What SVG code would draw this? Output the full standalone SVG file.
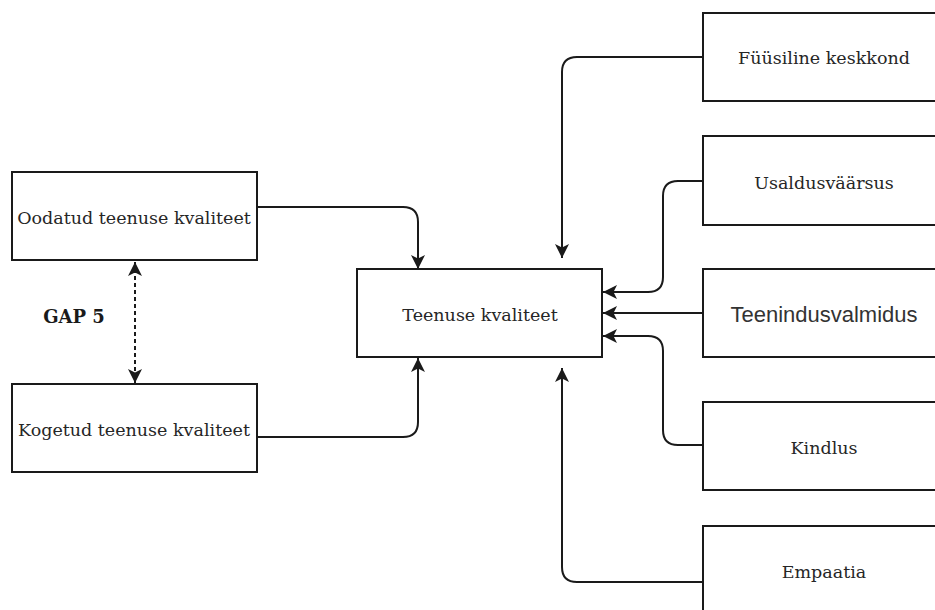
<svg xmlns="http://www.w3.org/2000/svg" width="935" height="610" viewBox="0 0 935 610">
  <defs>
    <style>
      .box { fill: #ffffff; stroke: #1a1a1a; stroke-width: 2; }
      .lbl { font-family: "DejaVu Serif", "Liberation Serif", serif; font-size: 17.5px; fill: #262626; text-anchor: middle; dominant-baseline: central; }
      .sans { font-family: "Liberation Sans", Arial, sans-serif; font-size: 22px; fill: #333333; text-anchor: middle; dominant-baseline: central; }
      .gap { font-family: "DejaVu Serif", "Liberation Serif", serif; font-size: 18px; font-weight: bold; fill: #1a1a1a; text-anchor: middle; dominant-baseline: central; }
      .edge { fill: none; stroke: #1a1a1a; stroke-width: 2; marker-end: url(#arrow); }
      .dash { fill: none; stroke: #1a1a1a; stroke-width: 2; stroke-dasharray: 4 3; marker-start: url(#arrow); marker-end: url(#arrow); }
    </style>
    <!-- classic notched arrowhead, tip at the path end -->
    <marker id="arrow" viewBox="0 0 14 14" refX="14" refY="7" markerWidth="14" markerHeight="14" markerUnits="userSpaceOnUse" orient="auto-start-reverse">
      <path d="M14,7 L0,0 L3.5,7 L0,14 Z" fill="#1a1a1a"/>
    </marker>
  </defs>

  <!-- connectors -->
  <g id="connectors">
    <path class="edge" d="M257,207 H403 Q418,207 418,222 V269"/>
    <path class="edge" d="M257,437 H403 Q418,437 418,422 V358"/>
    <path class="dash" d="M135,262 V383"/>
    <path class="edge" d="M703,57 H577 Q562,57 562,72 V258"/>
    <path class="edge" d="M703,181 H678 Q663,181 663,196 V277 Q663,292 648,292 H603"/>
    <path class="edge" d="M703,313 H603"/>
    <path class="edge" d="M703,445 H678 Q663,445 663,430 V351 Q663,336 648,336 H603"/>
    <path class="edge" d="M703,582 H577 Q562,582 562,567 V368"/>
  </g>

  <!-- left column -->
  <g id="oodatud">
    <rect class="box" x="12" y="172" width="245" height="88"/>
    <text class="lbl" x="134" y="218">Oodatud teenuse kvaliteet</text>
  </g>
  <g id="kogetud">
    <rect class="box" x="12" y="384" width="245" height="88"/>
    <text class="lbl" x="134" y="430">Kogetud teenuse kvaliteet</text>
  </g>
  <g id="gap5">
    <text class="gap" x="74" y="316">GAP 5</text>
  </g>

  <!-- centre -->
  <g id="teenuse-kvaliteet">
    <rect class="box" x="357" y="269" width="245" height="88"/>
    <text class="lbl" x="480" y="315">Teenuse kvaliteet</text>
  </g>

  <!-- right column -->
  <g id="fuusiline">
    <rect class="box" x="703" y="13" width="245" height="88"/>
    <text class="lbl" x="824" y="58">Füüsiline keskkond</text>
  </g>
  <g id="usaldusvaarsus">
    <rect class="box" x="703" y="136" width="245" height="89"/>
    <text class="lbl" x="824" y="183">Usaldusväärsus</text>
  </g>
  <g id="teenindusvalmidus">
    <rect class="box" x="703" y="269" width="245" height="88"/>
    <text class="sans" x="824" y="314">Teenindusvalmidus</text>
  </g>
  <g id="kindlus">
    <rect class="box" x="703" y="402" width="245" height="88"/>
    <text class="lbl" x="824" y="448">Kindlus</text>
  </g>
  <g id="empaatia">
    <rect class="box" x="703" y="526" width="245" height="100"/>
    <text class="lbl" x="824" y="572">Empaatia</text>
  </g>
</svg>
